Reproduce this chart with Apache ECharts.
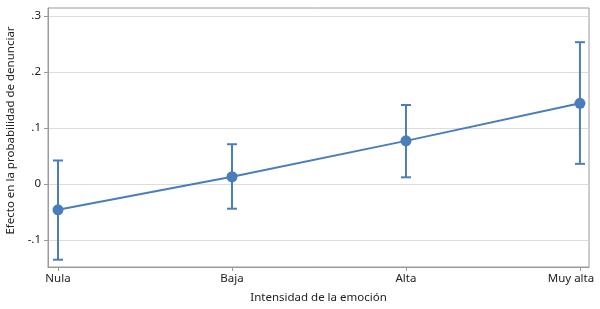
<!DOCTYPE html>
<html><head><meta charset="utf-8">
<script src="https://cdn.jsdelivr.net/npm/echarts@6/dist/echarts.min.js"></script>
<style>html,body{margin:0;padding:0;background:#fff}#c{width:600px;height:309px}</style>
</head><body><div id="c"></div>
<script>
const categories = ['Nula', 'Baja', 'Alta', 'Muy alta'];
const estimates = [-0.046, 0.013, 0.077, 0.144];
const lowerCI = [-0.135, -0.044, 0.012, 0.036];
const upperCI = [0.042, 0.071, 0.141, 0.253];
const yTicks = [-0.1, 0, 0.1, 0.2, 0.3];

const color = '#4a7ebb';
const font = 'Noto Sans';
const chart = echarts.init(document.getElementById('c'));
const xIdx = categories.map((c, i) => i);
const lblStyle = { fontFamily: font, fontSize: 11.5, color: '#222' };
chart.setOption({
  animation: false,
  grid: { left: 48, right: 11, top: 8, bottom: 42, show: true, borderColor: '#9a9a9a', borderWidth: 1,
    containLabel: false, outerBoundsMode: 'none' },
  xAxis: {
    type: 'value', min: -0.0575, max: 3.052,
    name: 'Intensidad de la emoción', nameLocation: 'middle', nameGap: 25,
    nameTextStyle: lblStyle,
    axisLine: { show: true, onZero: false, lineStyle: { color: '#9a9a9a' } },
    axisTick: { show: true, length: 4, customValues: xIdx, lineStyle: { color: '#9a9a9a' } },
    axisLabel: Object.assign({ customValues: xIdx, margin: 6,
      formatter: v => { const i = Math.round(v); return i === categories.length - 1 ? '{last|' + categories[i] + '}' : categories[i]; },
      rich: { last: Object.assign({ padding: [0, 18, 0, 0] }, lblStyle) } }, lblStyle),
    splitLine: { show: false }
  },
  yAxis: {
    type: 'value', min: -0.148, max: 0.314,
    name: 'Efecto en la probabilidad de denunciar', nameLocation: 'middle', nameGap: 30,
    nameTextStyle: Object.assign({ padding: [0, 0, 0, 14] }, lblStyle),
    axisLine: { show: true, onZero: false, lineStyle: { color: '#9a9a9a' } },
    axisTick: { show: true, length: 4, customValues: yTicks, lineStyle: { color: '#9a9a9a' } },
    axisLabel: Object.assign({ customValues: yTicks, margin: 7,
      formatter: v => { const r = Math.round(v * 10) / 10; if (r === 0) return '0'; return (r < 0 ? '-' : '') + Math.abs(r).toFixed(1).replace(/^0/, ''); } }, lblStyle),
    splitLine: { show: true, lineStyle: { color: '#dcdcdc' } }
  },
  series: [
    {
      type: 'custom',
      data: categories.map((c, i) => [i, lowerCI[i], upperCI[i]]),
      renderItem: (params, api) => {
        const lo = api.coord([api.value(0), api.value(1)]);
        const hi = api.coord([api.value(0), api.value(2)]);
        const w = 5;
        const st = { stroke: color, lineWidth: 2 };
        return { type: 'group', children: [
          { type: 'line', shape: { x1: lo[0], y1: lo[1], x2: hi[0], y2: hi[1] }, style: st },
          { type: 'line', shape: { x1: lo[0] - w, y1: lo[1], x2: lo[0] + w, y2: lo[1] }, style: st },
          { type: 'line', shape: { x1: hi[0] - w, y1: hi[1], x2: hi[0] + w, y2: hi[1] }, style: st }
        ]};
      },
      z: 2
    },
    {
      type: 'line',
      data: categories.map((c, i) => [i, estimates[i]]),
      symbol: 'circle', symbolSize: 11,
      lineStyle: { color: color, width: 2 },
      itemStyle: { color: color },
      z: 3
    }
  ]
});
</script></body></html>
